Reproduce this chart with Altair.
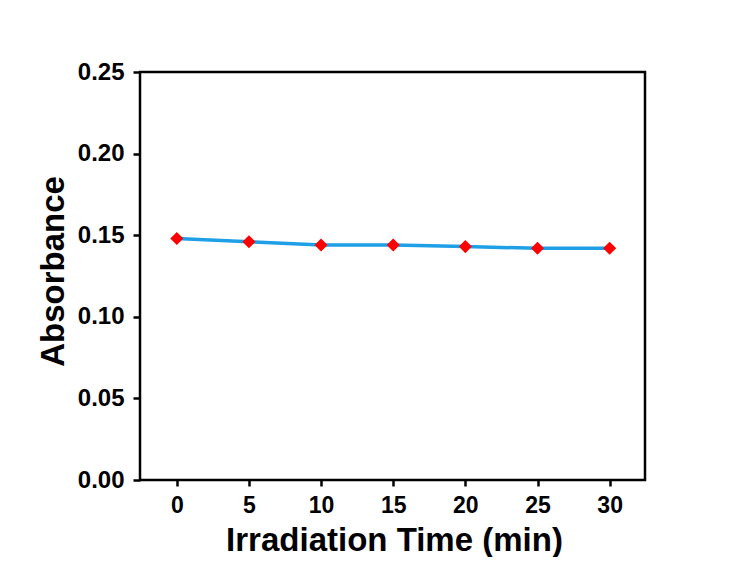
import altair as alt
import pandas as pd

time_min = [0, 5, 10, 15, 20, 25, 30]
absorbance = [0.148, 0.146, 0.144, 0.144, 0.143, 0.142, 0.142]
x_ticks = [0, 5, 10, 15, 20, 25, 30]
y_ticks = [0.00, 0.05, 0.10, 0.15, 0.20, 0.25]

df = pd.DataFrame({"t": time_min, "a": absorbance})

FONT = "Liberation Sans"

x_enc = alt.X(
    "t:Q",
    scale=alt.Scale(domain=[-2.55, 32.45], nice=False, zero=False),
    axis=alt.Axis(
        values=x_ticks,
        title="Irradiation Time (min)",
        titleFontSize=33,
        titleFont=FONT,
        titleFontWeight="bold",
        titleColor="black",
        titleY=70,
        titleX=254,
        titleBaseline="alphabetic",
        labelFontSize=23,
        labelFont=FONT,
        labelFontWeight="bold",
        labelColor="black",
        labelPadding=8,
        tickSize=6,
        tickWidth=2.5,
        tickColor="black",
        domain=False,
        grid=False,
    ),
)
y_enc = alt.Y(
    "a:Q",
    scale=alt.Scale(domain=[0, 0.25], nice=False),
    axis=alt.Axis(
        values=y_ticks,
        format=".2f",
        title="Absorbance",
        titleFontSize=33,
        titleFont=FONT,
        titleFontWeight="bold",
        titleColor="black",
        titleX=-77,
        titleY=199,
        titleBaseline="alphabetic",
        titleAngle=270,
        labelFontSize=24,
        labelFont=FONT,
        labelFontWeight="bold",
        labelColor="black",
        labelPadding=9,
        tickSize=7,
        tickWidth=2.5,
        tickColor="black",
        domain=False,
        grid=False,
    ),
)

line = alt.Chart(df).mark_line(color="#1E9FE6", strokeWidth=3.5).encode(x=x_enc, y=y_enc)
pts = alt.Chart(df).mark_point(
    shape="diamond", filled=True, color="#FF0000", size=170, opacity=1
).encode(x="t:Q", y="a:Q")

chart = (
    alt.layer(line, pts)
    .properties(
        width=505,
        height=408,
        autosize=alt.AutoSizeParams(type="none"),
        padding={"left": 132, "top": 64, "right": 84, "bottom": 77},
        background="white",
    )
    .configure_view(stroke="black", strokeWidth=2.5)
)

chart.save("out.html", embed_options={"renderer": "svg", "actions": False})
